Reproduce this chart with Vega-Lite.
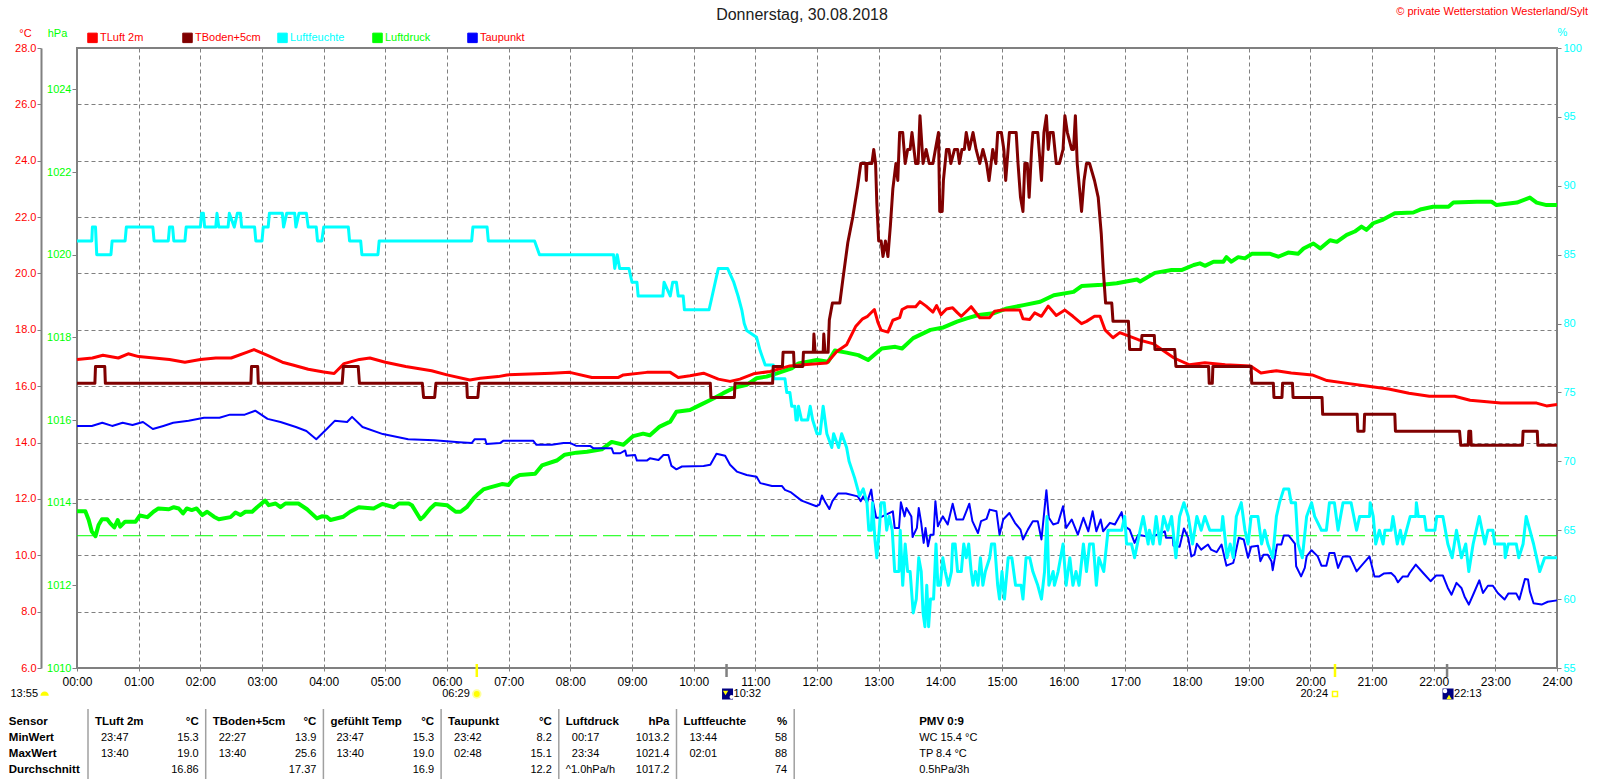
{
  "$schema": "https://vega.github.io/schema/vega-lite/v6.json",
  "width": 1480,
  "height": 620,
  "autosize": {"type": "none"},
  "padding": {"left": 77, "top": 48, "right": 43, "bottom": 112},
  "background": "white",
  "config": {
    "font": "Liberation Sans",
    "view": {"stroke": "#808080", "strokeWidth": 2},
    "axis": {"labelFont": "Liberation Sans", "labelFontSize": 11, "titleFont": "Liberation Sans", "titleFontSize": 11, "titleFontWeight": "normal", "titleAngle": 0, "titleAlign": "center", "titleBaseline": "middle", "tickColor": "#808080", "domainColor": "#808080", "labelOverlap": false, "labelBound": false, "labelFlush": false},
    "text": {"font": "Liberation Sans", "fontSize": 11, "color": "#000000"}
  },
  "datasets": {
    "tluft": [
      {"t":0,"v":16.95},{"t":0.25,"v":17.0},{"t":0.42,"v":17.1},{"t":0.67,"v":17.0},{"t":0.83,"v":17.15},{"t":1.0,"v":17.05},{"t":1.5,"v":16.95},{"t":1.75,"v":16.85},{"t":2.0,"v":16.95},{"t":2.25,"v":17.0},{"t":2.5,"v":17.0},{"t":2.75,"v":17.2},{"t":2.87,"v":17.3},{"t":3.08,"v":17.1},{"t":3.33,"v":16.85},{"t":3.5,"v":16.75},{"t":3.75,"v":16.6},{"t":4.0,"v":16.5},{"t":4.17,"v":16.45},{"t":4.33,"v":16.8},{"t":4.58,"v":16.95},{"t":4.75,"v":17.0},{"t":5.0,"v":16.85},{"t":5.33,"v":16.7},{"t":5.75,"v":16.55},{"t":6.0,"v":16.4},{"t":6.37,"v":16.22},{"t":6.54,"v":16.28},{"t":6.83,"v":16.34},{"t":6.97,"v":16.4},{"t":7.7,"v":16.46},{"t":7.99,"v":16.49},{"t":8.35,"v":16.31},{"t":8.78,"v":16.31},{"t":8.86,"v":16.4},{"t":9.24,"v":16.49},{"t":9.62,"v":16.49},{"t":9.75,"v":16.31},{"t":9.94,"v":16.37},{"t":10.16,"v":16.46},{"t":10.4,"v":16.25},{"t":10.59,"v":16.17},{"t":10.75,"v":16.25},{"t":10.97,"v":16.44},{"t":11.24,"v":16.52},{"t":11.56,"v":16.72},{"t":11.78,"v":16.76},{"t":12.16,"v":16.82},{"t":12.32,"v":17.23},{"t":12.48,"v":17.47},
      {"t":12.63,"v":18.13},{"t":12.74,"v":18.39},{"t":12.82,"v":18.48},{"t":12.93,"v":18.72},{"t":12.99,"v":18.25},{"t":13.04,"v":17.99},{"t":13.15,"v":17.92},{"t":13.23,"v":18.34},{"t":13.34,"v":18.43},{"t":13.38,"v":18.72},{"t":13.47,"v":18.82},{"t":13.6,"v":18.82},{"t":13.67,"v":19.0},{"t":13.77,"v":18.84},{"t":13.88,"v":18.63},{"t":13.94,"v":18.86},{"t":14.01,"v":18.54},{"t":14.1,"v":18.74},{"t":14.2,"v":18.78},{"t":14.28,"v":18.6},{"t":14.34,"v":18.48},{"t":14.5,"v":18.82},{"t":14.64,"v":18.43},{"t":14.8,"v":18.43},{"t":14.88,"v":18.66},{"t":15.02,"v":18.7},{"t":15.18,"v":18.7},{"t":15.29,"v":18.7},{"t":15.34,"v":18.39},{"t":15.45,"v":18.37},{"t":15.53,"v":18.6},{"t":15.64,"v":18.48},{"t":15.75,"v":18.84},{"t":15.88,"v":18.51},{"t":16.02,"v":18.7},{"t":16.15,"v":18.48},{"t":16.29,"v":18.22},{"t":16.37,"v":18.3},{"t":16.5,"v":18.48},{"t":16.59,"v":18.48},{"t":16.67,"v":18.0},{"t":16.8,"v":17.72},{"t":16.91,"v":17.9},
      {"t":17.21,"v":17.65},{"t":17.46,"v":17.5},{"t":17.79,"v":17.0},{"t":18.04,"v":16.76},{"t":18.29,"v":16.83},{"t":18.62,"v":16.76},{"t":19.03,"v":16.72},{"t":19.2,"v":16.47},{"t":19.45,"v":16.55},{"t":19.69,"v":16.47},{"t":20.03,"v":16.4},{"t":20.27,"v":16.2},{"t":20.6,"v":16.1},{"t":20.94,"v":16.0},{"t":21.27,"v":15.9},{"t":21.6,"v":15.75},{"t":21.93,"v":15.64},{"t":22.34,"v":15.64},{"t":22.59,"v":15.5},{"t":23.09,"v":15.4},{"t":23.42,"v":15.4},{"t":23.67,"v":15.4},{"t":23.83,"v":15.3},{"t":24,"v":15.35}
    ],
    "tboden": [
      {"t":0,"v":16.1},{"t":0.29,"v":16.1},{"t":0.3,"v":16.7},{"t":0.45,"v":16.7},{"t":0.46,"v":16.1},{"t":2.82,"v":16.1},{"t":2.83,"v":16.7},{"t":2.93,"v":16.7},{"t":2.94,"v":16.1},{"t":4.3,"v":16.1},{"t":4.32,"v":16.7},{"t":4.56,"v":16.7},{"t":4.58,"v":16.1},{"t":5.6,"v":16.1},{"t":5.62,"v":15.6},{"t":5.8,"v":15.6},{"t":5.82,"v":16.1},{"t":6.32,"v":16.1},{"t":6.33,"v":15.6},{"t":6.5,"v":15.6},{"t":6.52,"v":16.1},{"t":10.27,"v":16.1},{"t":10.28,"v":15.6},{"t":10.66,"v":15.6},{"t":10.67,"v":16.1},{"t":11.28,"v":16.1},{"t":11.29,"v":16.7},{"t":11.44,"v":16.7},{"t":11.45,"v":17.2},{"t":11.62,"v":17.2},{"t":11.63,"v":16.7},{"t":11.77,"v":16.7},{"t":11.78,"v":17.2},{"t":11.94,"v":17.2},{"t":11.95,"v":17.85},{"t":11.97,"v":17.2},{"t":12.1,"v":17.2},{"t":12.11,"v":17.85},{"t":12.13,"v":17.2},{"t":12.18,"v":17.2},
      {"t":12.2,"v":18.35},{"t":12.25,"v":18.95},{"t":12.37,"v":18.95},{"t":12.42,"v":19.8},{"t":12.5,"v":21.1},{"t":12.58,"v":22.0},{"t":12.66,"v":23.1},{"t":12.71,"v":23.9},{"t":12.79,"v":23.9},{"t":12.8,"v":23.3},{"t":12.81,"v":23.9},{"t":12.89,"v":23.9},{"t":12.92,"v":24.4},{"t":12.95,"v":23.9},{"t":12.97,"v":22.5},{"t":13.0,"v":21.15},{"t":13.04,"v":21.15},{"t":13.07,"v":20.6},{"t":13.11,"v":21.15},{"t":13.15,"v":20.6},{"t":13.19,"v":21.7},{"t":13.23,"v":23},{"t":13.28,"v":23.9},{"t":13.31,"v":23.3},{"t":13.34,"v":25},{"t":13.39,"v":25},{"t":13.43,"v":23.9},{"t":13.47,"v":24.4},{"t":13.51,"v":24.4},{"t":13.54,"v":25},{"t":13.6,"v":23.9},{"t":13.64,"v":23.9},{"t":13.67,"v":25.6},{"t":13.72,"v":23.9},{"t":13.77,"v":24.4},{"t":13.82,"v":23.9},{"t":13.88,"v":23.9},{"t":13.92,"v":24.4},{"t":13.97,"v":25},{"t":13.99,"v":22.2},{"t":14.03,"v":22.2},{"t":14.05,"v":23.3},{"t":14.1,"v":24.4},{"t":14.14,"v":24.4},{"t":14.17,"v":23.9},{"t":14.23,"v":24.4},{"t":14.28,"v":24.4},{"t":14.31,"v":23.9},{"t":14.35,"v":24.4},{"t":14.39,"v":24.4},{"t":14.42,"v":25},{"t":14.47,"v":24.4},{"t":14.53,"v":25},{"t":14.58,"v":24.4},{"t":14.64,"v":23.9},{"t":14.69,"v":24.4},{"t":14.75,"v":23.9},{"t":14.79,"v":23.3},{"t":14.85,"v":24.4},{"t":14.9,"v":23.9},{"t":14.93,"v":25},{"t":14.99,"v":25},{"t":15.03,"v":24.4},{"t":15.06,"v":23.3},{"t":15.12,"v":25},{"t":15.23,"v":25},{"t":15.26,"v":23.9},{"t":15.3,"v":22.7},{"t":15.34,"v":22.2},{"t":15.37,"v":23.9},{"t":15.41,"v":23.9},{"t":15.44,"v":22.7},{"t":15.48,"v":24.4},{"t":15.5,"v":25},{"t":15.58,"v":25},{"t":15.64,"v":23.3},{"t":15.68,"v":25},{"t":15.72,"v":25.6},{"t":15.75,"v":24.4},{"t":15.78,"v":25},{"t":15.83,"v":25},{"t":15.88,"v":23.9},{"t":15.93,"v":23.9},{"t":15.99,"v":24.4},{"t":16.02,"v":25.6},{"t":16.06,"v":25},{"t":16.13,"v":24.4},{"t":16.16,"v":24.4},{"t":16.19,"v":25.6},{"t":16.22,"v":23.9},{"t":16.29,"v":22.2},{"t":16.33,"v":23.3},{"t":16.37,"v":23.9},{"t":16.42,"v":23.9},{"t":16.5,"v":23.3},{"t":16.56,"v":22.7},{"t":16.61,"v":21.4},{"t":16.64,"v":20.2},{"t":16.68,"v":18.95},{"t":16.78,"v":18.95},{"t":16.8,"v":18.3},{"t":17.05,"v":18.3},{"t":17.07,"v":17.3},{"t":17.25,"v":17.3},{"t":17.27,"v":17.8},{"t":17.47,"v":17.8},{"t":17.48,"v":17.3},{"t":17.8,"v":17.3},{"t":17.82,"v":16.7},{"t":18.35,"v":16.7},{"t":18.36,"v":16.1},{"t":18.41,"v":16.1},{"t":18.42,"v":16.7},{"t":19.04,"v":16.7},{"t":19.05,"v":16.1},{"t":19.4,"v":16.1},{"t":19.41,"v":15.6},{"t":19.54,"v":15.6},{"t":19.55,"v":16.1},{"t":19.71,"v":16.1},{"t":19.72,"v":15.6},{"t":20.19,"v":15.6},{"t":20.2,"v":15.0},{"t":20.76,"v":15.0},{"t":20.77,"v":14.4},{"t":20.87,"v":14.4},{"t":20.88,"v":15.0},{"t":21.37,"v":15.0},{"t":21.38,"v":14.4},{"t":22.42,"v":14.4},{"t":22.44,"v":13.9},{"t":22.56,"v":13.9},{"t":22.57,"v":14.4},{"t":22.6,"v":14.4},{"t":22.61,"v":13.9},{"t":23.44,"v":13.9},{"t":23.45,"v":14.4},{"t":23.68,"v":14.4},{"t":23.69,"v":13.9},{"t":24,"v":13.9}
    ],
    "feuchte": [
      {"t":0,"v":86},{"t":0.24,"v":86},{"t":0.25,"v":87},{"t":0.3,"v":87},{"t":0.32,"v":85},{"t":0.55,"v":85},{"t":0.57,"v":86},{"t":0.78,"v":86},{"t":0.8,"v":87},{"t":1.23,"v":87},{"t":1.25,"v":86},{"t":1.48,"v":86},{"t":1.5,"v":87},{"t":1.55,"v":87},{"t":1.57,"v":86},{"t":1.75,"v":86},{"t":1.77,"v":87},{"t":2.0,"v":87},{"t":2.02,"v":88},{"t":2.05,"v":88},{"t":2.07,"v":87},{"t":2.25,"v":87},{"t":2.27,"v":88},{"t":2.3,"v":87},{"t":2.45,"v":87},{"t":2.47,"v":88},{"t":2.55,"v":87},{"t":2.6,"v":88},{"t":2.65,"v":88},{"t":2.67,"v":87},{"t":2.88,"v":87},{"t":2.9,"v":86},{"t":3.0,"v":86},{"t":3.02,"v":87},{"t":3.1,"v":87},{"t":3.12,"v":88},{"t":3.33,"v":88},{"t":3.35,"v":87},{"t":3.4,"v":88},{"t":3.53,"v":88},{"t":3.55,"v":87},{"t":3.6,"v":88},{"t":3.72,"v":88},{"t":3.75,"v":87},{"t":3.88,"v":87},{"t":3.9,"v":86},{"t":3.97,"v":86},{"t":4.0,"v":87},{"t":4.4,"v":87},{"t":4.42,"v":86},{"t":4.6,"v":86},{"t":4.62,"v":85},{"t":4.88,"v":85},{"t":4.9,"v":86},{"t":6.4,"v":86},{"t":6.42,"v":87},{"t":6.65,"v":87},{"t":6.67,"v":86},{"t":7.42,"v":86},{"t":7.5,"v":85},{"t":8.7,"v":85},{"t":8.72,"v":84},{"t":8.76,"v":85},{"t":8.8,"v":84},{"t":8.95,"v":84},{"t":9.0,"v":83},{"t":9.08,"v":83},{"t":9.1,"v":82},{"t":9.5,"v":82},{"t":9.52,"v":83},{"t":9.62,"v":82},{"t":9.66,"v":83},{"t":9.72,"v":83},{"t":9.75,"v":82},{"t":9.83,"v":82},{"t":9.85,"v":81},{"t":10.25,"v":81},{"t":10.3,"v":82},{"t":10.4,"v":84},{"t":10.55,"v":84},{"t":10.65,"v":83},{"t":10.72,"v":82},{"t":10.78,"v":81},{"t":10.82,"v":80},{"t":10.86,"v":79.5},{"t":11.02,"v":79},{"t":11.08,"v":78},{"t":11.16,"v":77},{"t":11.29,"v":77},{"t":11.3,"v":76},{"t":11.48,"v":76},{"t":11.51,"v":75},{"t":11.56,"v":75},{"t":11.59,"v":74},{"t":11.64,"v":74},{"t":11.66,"v":73},{"t":11.68,"v":73},{"t":11.7,"v":74},{"t":11.75,"v":73},{"t":11.85,"v":73},{"t":11.89,"v":74},{"t":11.93,"v":73},{"t":12.0,"v":72},{"t":12.05,"v":72},{"t":12.1,"v":74},{"t":12.16,"v":72},{"t":12.24,"v":71},{"t":12.27,"v":72},{"t":12.35,"v":71},{"t":12.4,"v":72},{"t":12.48,"v":71},
      {"t":12.52,"v":70},{"t":12.61,"v":68.8},{"t":12.69,"v":67.5},{"t":12.75,"v":68},{"t":12.81,"v":67},{"t":12.84,"v":65},{"t":12.88,"v":65},{"t":12.9,"v":67},{"t":12.94,"v":64.3},{"t":12.97,"v":63},{"t":13.01,"v":65},{"t":13.04,"v":67},{"t":13.09,"v":67},{"t":13.13,"v":65},{"t":13.17,"v":66},{"t":13.22,"v":65},{"t":13.26,"v":62},{"t":13.33,"v":62},{"t":13.35,"v":65},{"t":13.39,"v":61},{"t":13.43,"v":64},{"t":13.47,"v":62},{"t":13.51,"v":62},{"t":13.56,"v":59},{"t":13.61,"v":60},{"t":13.65,"v":63},{"t":13.69,"v":62},{"t":13.72,"v":59},{"t":13.75,"v":58},{"t":13.78,"v":61},{"t":13.81,"v":58},{"t":13.84,"v":60},{"t":13.89,"v":60},{"t":13.93,"v":64},{"t":13.96,"v":61},{"t":14.0,"v":61},{"t":14.04,"v":63},{"t":14.08,"v":62},{"t":14.13,"v":61},{"t":14.18,"v":62},{"t":14.2,"v":64},{"t":14.24,"v":64},{"t":14.28,"v":62},{"t":14.34,"v":62},{"t":14.38,"v":64},{"t":14.42,"v":63},{"t":14.46,"v":64},{"t":14.5,"v":62},{"t":14.53,"v":61},{"t":14.57,"v":62},{"t":14.61,"v":61},{"t":14.65,"v":63},{"t":14.69,"v":61},{"t":14.73,"v":62},{"t":14.8,"v":63},{"t":14.83,"v":64},{"t":14.88,"v":64},{"t":14.93,"v":61},{"t":14.96,"v":60},{"t":15.0,"v":62},{"t":15.04,"v":60},{"t":15.1,"v":63},{"t":15.16,"v":63},{"t":15.22,"v":61},{"t":15.31,"v":61},{"t":15.34,"v":60},{"t":15.39,"v":63},{"t":15.45,"v":63},{"t":15.5,"v":62},{"t":15.58,"v":61},{"t":15.64,"v":60},{"t":15.69,"v":62},{"t":15.73,"v":66},{"t":15.76,"v":61},{"t":15.83,"v":62},{"t":15.85,"v":61},{"t":15.91,"v":62},{"t":15.99,"v":64},{"t":16.04,"v":61},{"t":16.1,"v":63},{"t":16.15,"v":61},{"t":16.2,"v":62},{"t":16.25,"v":61},{"t":16.32,"v":64},{"t":16.37,"v":62},{"t":16.42,"v":64},{"t":16.48,"v":64},{"t":16.53,"v":61},{"t":16.57,"v":63},{"t":16.65,"v":62},{"t":16.72,"v":65},{"t":16.94,"v":65},{"t":16.99,"v":66},{"t":17.02,"v":64},{"t":17.1,"v":64},{"t":17.15,"v":63},{"t":17.24,"v":65},{"t":17.29,"v":66},{"t":17.37,"v":64},
      {"t":17.39,"v":65},{"t":17.45,"v":64},{"t":17.5,"v":66},{"t":17.56,"v":64},{"t":17.62,"v":66},{"t":17.69,"v":65},{"t":17.75,"v":66},{"t":17.82,"v":63},{"t":17.88,"v":66},{"t":17.95,"v":67},{"t":18.02,"v":66},{"t":18.09,"v":64},{"t":18.16,"v":66},{"t":18.23,"v":65},{"t":18.29,"v":66},{"t":18.37,"v":65},{"t":18.56,"v":65},{"t":18.58,"v":66},{"t":18.65,"v":63},{"t":18.7,"v":64},{"t":18.75,"v":63},{"t":18.8,"v":66},{"t":18.88,"v":67},{"t":18.94,"v":65},{"t":18.99,"v":64},{"t":19.04,"v":66},{"t":19.15,"v":66},{"t":19.21,"v":64},{"t":19.26,"v":65},{"t":19.31,"v":64},{"t":19.39,"v":63},{"t":19.45,"v":66},{"t":19.5,"v":67},{"t":19.57,"v":68},{"t":19.65,"v":68},{"t":19.69,"v":67},{"t":19.76,"v":67},{"t":19.8,"v":64},{"t":19.87,"v":63},{"t":19.94,"v":66},{"t":20.02,"v":67},{"t":20.07,"v":66},{"t":20.18,"v":65},{"t":20.26,"v":65},{"t":20.31,"v":67},{"t":20.39,"v":67},{"t":20.45,"v":65},{"t":20.53,"v":67},{"t":20.66,"v":67},{"t":20.75,"v":65},{"t":20.8,"v":66},{"t":20.96,"v":66},{"t":20.97,"v":67},{"t":21.02,"v":66},{"t":21.06,"v":64},{"t":21.12,"v":65},{"t":21.18,"v":64},{"t":21.21,"v":65},{"t":21.31,"v":65},{"t":21.34,"v":66},{"t":21.41,"v":64},{"t":21.46,"v":65},{"t":21.5,"v":64},{"t":21.56,"v":65},{"t":21.62,"v":66},{"t":21.71,"v":66},{"t":21.72,"v":67},{"t":21.75,"v":66},{"t":21.85,"v":66},{"t":21.88,"v":65},{"t":22.02,"v":65},{"t":22.05,"v":66},{"t":22.15,"v":66},{"t":22.23,"v":64},{"t":22.3,"v":63},{"t":22.37,"v":65},{"t":22.45,"v":63},{"t":22.52,"v":64},{"t":22.57,"v":62},{"t":22.64,"v":64},{"t":22.74,"v":66},{"t":22.83,"v":64},{"t":22.88,"v":65},{"t":22.96,"v":65},{"t":22.99,"v":64},{"t":23.15,"v":64},{"t":23.16,"v":63},{"t":23.21,"v":64},{"t":23.34,"v":64},{"t":23.38,"v":63},{"t":23.45,"v":64},{"t":23.5,"v":66},{"t":23.56,"v":65},{"t":23.62,"v":64},{"t":23.72,"v":62},{"t":23.8,"v":63},{"t":24,"v":63}
    ],
    "druck": [
      {"t":0,"v":1013.79},{"t":0.135,"v":1013.79},{"t":0.19,"v":1013.58},{"t":0.24,"v":1013.3},{"t":0.3,"v":1013.19},{"t":0.35,"v":1013.46},{"t":0.405,"v":1013.6},{"t":0.49,"v":1013.6},{"t":0.54,"v":1013.5},{"t":0.605,"v":1013.4},{"t":0.66,"v":1013.58},{"t":0.7,"v":1013.42},{"t":0.78,"v":1013.54},{"t":0.95,"v":1013.54},{"t":1.02,"v":1013.69},{"t":1.14,"v":1013.65},{"t":1.24,"v":1013.78},{"t":1.32,"v":1013.86},{"t":1.49,"v":1013.84},{"t":1.57,"v":1013.89},{"t":1.65,"v":1013.86},{"t":1.72,"v":1013.74},{"t":1.78,"v":1013.86},{"t":1.86,"v":1013.82},{"t":1.94,"v":1013.86},{"t":2.03,"v":1013.7},{"t":2.11,"v":1013.78},{"t":2.22,"v":1013.66},{"t":2.3,"v":1013.6},{"t":2.49,"v":1013.65},{"t":2.57,"v":1013.76},{"t":2.65,"v":1013.7},{"t":2.73,"v":1013.78},{"t":2.84,"v":1013.78},{"t":2.92,"v":1013.89},{"t":3.05,"v":1014.05},{"t":3.11,"v":1013.94},{"t":3.22,"v":1013.98},{"t":3.3,"v":1013.89},{"t":3.38,"v":1013.98},{"t":3.59,"v":1013.98},{"t":3.73,"v":1013.84},{"t":3.89,"v":1013.62},{"t":3.97,"v":1013.67},{"t":4.05,"v":1013.66},{"t":4.11,"v":1013.58},{"t":4.32,"v":1013.66},{"t":4.43,"v":1013.78},{"t":4.57,"v":1013.89},{"t":4.81,"v":1013.86},{"t":4.95,"v":1013.97},{"t":5.14,"v":1013.89},{"t":5.22,"v":1013.98},{"t":5.38,"v":1013.98},{"t":5.43,"v":1013.94},{"t":5.57,"v":1013.6},{"t":5.62,"v":1013.66},{"t":5.73,"v":1013.86},{"t":5.81,"v":1013.97},{"t":6.0,"v":1013.94},{"t":6.14,"v":1013.78},{"t":6.22,"v":1013.78},{"t":6.32,"v":1013.89},{"t":6.43,"v":1014.1},{"t":6.49,"v":1014.19},
      {"t":6.59,"v":1014.32},{"t":6.7,"v":1014.37},{"t":6.89,"v":1014.45},{"t":7.0,"v":1014.43},{"t":7.08,"v":1014.59},{"t":7.18,"v":1014.67},{"t":7.43,"v":1014.7},{"t":7.54,"v":1014.9},{"t":7.78,"v":1015.02},{"t":7.91,"v":1015.16},{"t":8.1,"v":1015.21},{"t":8.27,"v":1015.23},{"t":8.51,"v":1015.29},{"t":8.67,"v":1015.47},{"t":8.86,"v":1015.4},{"t":9.02,"v":1015.61},{"t":9.18,"v":1015.67},{"t":9.29,"v":1015.63},{"t":9.45,"v":1015.84},{"t":9.62,"v":1015.96},{"t":9.72,"v":1016.2},{"t":9.94,"v":1016.24},{"t":10.1,"v":1016.36},{"t":10.32,"v":1016.52},{"t":10.48,"v":1016.65},{"t":10.64,"v":1016.77},{"t":10.86,"v":1016.85},{"t":11.02,"v":1017.01},{"t":11.18,"v":1017.05},{"t":11.35,"v":1017.13},{"t":11.59,"v":1017.25},{"t":11.7,"v":1017.37},{"t":12.0,"v":1017.45},{"t":12.18,"v":1017.41},{"t":12.29,"v":1017.68},{"t":12.48,"v":1017.63},{"t":12.67,"v":1017.57},{"t":12.83,"v":1017.45},
      {"t":13.05,"v":1017.73},{"t":13.27,"v":1017.77},{"t":13.38,"v":1017.73},{"t":13.56,"v":1017.98},{"t":13.84,"v":1018.18},{"t":14.05,"v":1018.24},{"t":14.27,"v":1018.38},{"t":14.43,"v":1018.46},{"t":14.62,"v":1018.54},{"t":14.86,"v":1018.58},{"t":15.08,"v":1018.7},{"t":15.35,"v":1018.78},{"t":15.62,"v":1018.86},{"t":15.84,"v":1019.02},{"t":16.16,"v":1019.1},{"t":16.29,"v":1019.24},{"t":16.62,"v":1019.27},{"t":16.86,"v":1019.31},{"t":17.19,"v":1019.4},{"t":17.24,"v":1019.35},{"t":17.48,"v":1019.56},{"t":17.75,"v":1019.63},{"t":17.92,"v":1019.63},{"t":18.11,"v":1019.75},
      {"t":18.21,"v":1019.79},{"t":18.29,"v":1019.73},{"t":18.43,"v":1019.83},{"t":18.59,"v":1019.83},{"t":18.64,"v":1019.94},{"t":18.72,"v":1019.83},{"t":18.83,"v":1019.94},{"t":18.94,"v":1019.91},{"t":19.05,"v":1020.02},{"t":19.35,"v":1020.02},{"t":19.48,"v":1019.95},{"t":19.64,"v":1020.05},{"t":19.8,"v":1020.02},{"t":19.89,"v":1020.15},{"t":20.05,"v":1020.27},{"t":20.16,"v":1020.15},{"t":20.32,"v":1020.35},{"t":20.43,"v":1020.31},{"t":20.59,"v":1020.48},{"t":20.72,"v":1020.56},{"t":20.83,"v":1020.68},{"t":20.91,"v":1020.6},{"t":21.02,"v":1020.76},{"t":21.18,"v":1020.85},{"t":21.37,"v":1021.0},{"t":21.67,"v":1021.02},{"t":21.8,"v":1021.1},{"t":21.99,"v":1021.16},{"t":22.24,"v":1021.16},{"t":22.32,"v":1021.26},{"t":22.7,"v":1021.28},{"t":22.94,"v":1021.28},{"t":23.02,"v":1021.2},{"t":23.35,"v":1021.26},{"t":23.56,"v":1021.38},{"t":23.67,"v":1021.26},{"t":23.83,"v":1021.2},{"t":24,"v":1021.2}
    ],
    "taupunkt": [
      {"t":0,"v":14.59},{"t":0.24,"v":14.59},{"t":0.41,"v":14.7},{"t":0.57,"v":14.59},{"t":0.74,"v":14.7},{"t":0.9,"v":14.62},{"t":1.07,"v":14.73},{"t":1.23,"v":14.48},{"t":1.4,"v":14.59},{"t":1.56,"v":14.7},{"t":1.81,"v":14.77},{"t":2.06,"v":14.88},{"t":2.31,"v":14.88},{"t":2.48,"v":14.99},{"t":2.72,"v":14.99},{"t":2.89,"v":15.13},{"t":3.09,"v":14.84},{"t":3.3,"v":14.73},{"t":3.55,"v":14.55},{"t":3.72,"v":14.41},{"t":3.88,"v":14.12},{"t":4.05,"v":14.48},{"t":4.18,"v":14.77},{"t":4.38,"v":14.73},{"t":4.46,"v":14.91},{"t":4.63,"v":14.55},{"t":4.96,"v":14.3},{"t":5.37,"v":14.12},{"t":5.79,"v":14.08},{"t":6.2,"v":14.01},{"t":6.4,"v":13.98},{"t":6.45,"v":14.12},{"t":6.62,"v":14.12},{"t":6.64,"v":13.95},{"t":6.86,"v":13.98},{"t":6.91,"v":14.06},{"t":7.4,"v":14.06},{"t":7.45,"v":13.92},{"t":7.7,"v":13.92},{"t":7.89,"v":13.98},{"t":8.0,"v":13.98},{"t":8.09,"v":13.89},{"t":8.32,"v":13.88},{"t":8.37,"v":13.8},{"t":8.67,"v":13.8},{"t":8.7,"v":13.62},{"t":8.81,"v":13.62},{"t":8.89,"v":13.72},{"t":8.91,"v":13.53},{"t":9.05,"v":13.56},{"t":9.08,"v":13.36},{"t":9.24,"v":13.36},{"t":9.29,"v":13.44},{"t":9.43,"v":13.38},{"t":9.51,"v":13.56},{"t":9.59,"v":13.56},{"t":9.64,"v":13.17},{"t":9.72,"v":13.05},{"t":9.81,"v":13.15},{"t":10.16,"v":13.17},{"t":10.27,"v":13.21},{"t":10.37,"v":13.6},{"t":10.51,"v":13.53},{"t":10.59,"v":13.21},{"t":10.7,"v":12.97},{"t":10.86,"v":12.85},{"t":11.02,"v":12.79},{"t":11.08,"v":12.56},{"t":11.27,"v":12.46},{"t":11.43,"v":12.46},{"t":11.48,"v":12.32},{"t":11.58,"v":12.23},{"t":11.75,"v":11.94},{"t":11.99,"v":11.74},
      {"t":12.04,"v":11.8},{"t":12.08,"v":12.12},{"t":12.14,"v":11.86},{"t":12.2,"v":11.64},{"t":12.25,"v":11.92},{"t":12.34,"v":12.19},{"t":12.47,"v":12.19},{"t":12.66,"v":12.09},{"t":12.71,"v":11.92},{"t":12.75,"v":12.09},{"t":12.81,"v":11.86},{"t":12.88,"v":12.33},{"t":12.9,"v":11.98},{"t":12.96,"v":11.33},{"t":13.01,"v":11.33},{"t":13.12,"v":11.44},{"t":13.23,"v":11.56},{"t":13.26,"v":10.97},{"t":13.33,"v":10.97},{"t":13.36,"v":11.88},{"t":13.42,"v":11.38},{"t":13.45,"v":11.68},{"t":13.53,"v":11.38},{"t":13.55,"v":10.65},{"t":13.62,"v":10.97},{"t":13.65,"v":11.68},{"t":13.69,"v":11.15},{"t":13.73,"v":10.44},{"t":13.76,"v":10.97},{"t":13.8,"v":10.32},{"t":13.84,"v":10.73},{"t":13.89,"v":10.73},{"t":13.92,"v":11.92},{"t":13.96,"v":11.03},{"t":14.04,"v":11.38},{"t":14.12,"v":11.09},{"t":14.2,"v":11.83},{"t":14.26,"v":11.27},{"t":14.37,"v":11.27},{"t":14.47,"v":11.83},{"t":14.52,"v":11.21},{"t":14.61,"v":10.79},{"t":14.66,"v":11.21},{"t":14.75,"v":11.29},{"t":14.8,"v":11.62},{"t":14.91,"v":11.56},{"t":14.96,"v":10.73},{"t":15.02,"v":11.27},{"t":15.12,"v":11.5},{"t":15.21,"v":11.15},{"t":15.3,"v":10.91},{"t":15.34,"v":10.56},{"t":15.42,"v":10.91},{"t":15.5,"v":11.21},{"t":15.58,"v":11.21},{"t":15.64,"v":10.56},{"t":15.72,"v":12.31},{"t":15.76,"v":11.33},{"t":15.83,"v":11.09},{"t":15.91,"v":11.15},{"t":15.99,"v":11.74},{"t":16.04,"v":10.97},{"t":16.13,"v":11.27},{"t":16.23,"v":10.73},{"t":16.32,"v":11.33},{"t":16.4,"v":10.85},{"t":16.47,"v":11.56},{"t":16.53,"v":10.85},{"t":16.6,"v":11.27},{"t":16.64,"v":10.85},{"t":16.75,"v":11.15},{"t":16.83,"v":11.09},{"t":16.94,"v":11.53},{"t":16.99,"v":11.03},{"t":17.07,"v":10.91},{"t":17.15,"v":10.44},{"t":17.21,"v":10.73},{"t":17.34,"v":10.67},{"t":17.48,"v":10.7},{"t":17.64,"v":10.85},{"t":17.66,"v":10.62},{"t":17.77,"v":10.62},{"t":17.78,"v":10.34},{"t":17.88,"v":10.3},{"t":17.95,"v":10.95},{"t":18.02,"v":10.62},{"t":18.07,"v":9.96},{"t":18.12,"v":10.02},{"t":18.16,"v":10.41},{"t":18.23,"v":10.2},{"t":18.34,"v":10.38},{"t":18.39,"v":10.2},{"t":18.48,"v":10.11},{"t":18.56,"v":10.38},{"t":18.64,"v":9.63},{"t":18.75,"v":9.73},{"t":18.77,"v":9.91},{"t":18.84,"v":10.62},{"t":18.92,"v":10.56},{"t":18.99,"v":9.91},{"t":19.04,"v":10.3},{"t":19.15,"v":10.34},{"t":19.19,"v":9.79},{"t":19.24,"v":10.02},{"t":19.31,"v":10.02},{"t":19.37,"v":9.79},{"t":19.39,"v":9.47},{"t":19.46,"v":10.38},{"t":19.53,"v":10.38},{"t":19.57,"v":10.7},{"t":19.65,"v":10.7},{"t":19.75,"v":10.41},{"t":19.77,"v":9.61},{"t":19.85,"v":9.25},{"t":19.91,"v":9.55},{"t":19.94,"v":9.96},{"t":20.02,"v":10.18},{"t":20.12,"v":9.96},{"t":20.18,"v":9.63},{"t":20.26,"v":9.63},{"t":20.31,"v":10.08},{"t":20.39,"v":10.08},{"t":20.45,"v":9.55},{"t":20.53,"v":9.96},{"t":20.64,"v":9.96},{"t":20.75,"v":9.43},{"t":20.83,"v":9.63},{"t":20.96,"v":9.96},{"t":21.04,"v":9.25},{"t":21.12,"v":9.25},{"t":21.19,"v":9.35},{"t":21.31,"v":9.37},{"t":21.37,"v":9.25},{"t":21.42,"v":9.04},{"t":21.5,"v":9.25},{"t":21.58,"v":9.25},{"t":21.61,"v":9.37},{"t":21.71,"v":9.67},{"t":21.83,"v":9.37},{"t":21.95,"v":9.08},{"t":22.04,"v":9.28},{"t":22.15,"v":9.28},{"t":22.23,"v":8.84},{"t":22.29,"v":8.6},{"t":22.37,"v":9.02},{"t":22.45,"v":8.84},{"t":22.5,"v":8.54},{"t":22.57,"v":8.25},{"t":22.64,"v":8.6},{"t":22.74,"v":9.11},{"t":22.8,"v":8.66},{"t":22.88,"v":8.92},{"t":22.96,"v":8.92},{"t":23.04,"v":8.66},{"t":23.15,"v":8.43},{"t":23.21,"v":8.64},{"t":23.34,"v":8.64},{"t":23.39,"v":8.43},{"t":23.48,"v":9.16},{"t":23.53,"v":9.14},{"t":23.56,"v":8.72},{"t":23.62,"v":8.3},{"t":23.75,"v":8.25},{"t":23.85,"v":8.35},{"t":24,"v":8.4}
    ],
    "ereignisse": [
      {"t":6.483,"zeit":"06:29","art":"Sonnenaufgang"},
      {"t":10.533,"zeit":"10:32","art":"Mondaufgang"},
      {"t":20.4,"zeit":"20:24","art":"Sonnenuntergang"},
      {"t":22.217,"zeit":"22:13","art":"Monduntergang"},
      {"t":0,"zeit":"13:55","art":"Tageslänge"},
      {"t":24,"zeit":"© private Wetterstation Westerland/Sylt","art":"Quelle"},
      {"t":12,"zeit":"Donnerstag, 30.08.2018","art":"Titel"}
    ],
    "spalten": [
      {"spalte":"TLuft 2m","einheit":"°C"},
      {"spalte":"TBoden+5cm","einheit":"°C"},
      {"spalte":"gefühlt Temp","einheit":"°C"},
      {"spalte":"Taupunkt","einheit":"°C"},
      {"spalte":"Luftdruck","einheit":"hPa"},
      {"spalte":"Luftfeuchte","einheit":"%"},
      {"spalte":"PMV 0:9","einheit":""}
    ],
    "zeilen": [{"zeile":"Sensor"},{"zeile":"MinWert"},{"zeile":"MaxWert"},{"zeile":"Durchschnitt"}],
    "tabelle": [
      {"spalte":"TLuft 2m","zeile":"MinWert","zeit":"23:47","wert":"15.3"},
      {"spalte":"TLuft 2m","zeile":"MaxWert","zeit":"13:40","wert":"19.0"},
      {"spalte":"TLuft 2m","zeile":"Durchschnitt","zeit":"","wert":"16.86"},
      {"spalte":"TBoden+5cm","zeile":"MinWert","zeit":"22:27","wert":"13.9"},
      {"spalte":"TBoden+5cm","zeile":"MaxWert","zeit":"13:40","wert":"25.6"},
      {"spalte":"TBoden+5cm","zeile":"Durchschnitt","zeit":"","wert":"17.37"},
      {"spalte":"gefühlt Temp","zeile":"MinWert","zeit":"23:47","wert":"15.3"},
      {"spalte":"gefühlt Temp","zeile":"MaxWert","zeit":"13:40","wert":"19.0"},
      {"spalte":"gefühlt Temp","zeile":"Durchschnitt","zeit":"","wert":"16.9"},
      {"spalte":"Taupunkt","zeile":"MinWert","zeit":"23:42","wert":"8.2"},
      {"spalte":"Taupunkt","zeile":"MaxWert","zeit":"02:48","wert":"15.1"},
      {"spalte":"Taupunkt","zeile":"Durchschnitt","zeit":"","wert":"12.2"},
      {"spalte":"Luftdruck","zeile":"MinWert","zeit":"00:17","wert":"1013.2"},
      {"spalte":"Luftdruck","zeile":"MaxWert","zeit":"23:34","wert":"1021.4"},
      {"spalte":"Luftdruck","zeile":"Durchschnitt","zeit":"","wert":"1017.2","notiz":"^1.0hPa/h"},
      {"spalte":"Luftfeuchte","zeile":"MinWert","zeit":"13:44","wert":"58"},
      {"spalte":"Luftfeuchte","zeile":"MaxWert","zeit":"02:01","wert":"88"},
      {"spalte":"Luftfeuchte","zeile":"Durchschnitt","zeit":"","wert":"74"},
      {"spalte":"PMV 0:9","zeile":"MinWert","info":"WC 15.4 °C"},
      {"spalte":"PMV 0:9","zeile":"MaxWert","info":"TP 8.4 °C"},
      {"spalte":"PMV 0:9","zeile":"Durchschnitt","info":"0.5hPa/3h"}
    ]
  },
  "resolve": {"scale": {"x": "independent", "y": "independent"}},
  "layer": [
    {
      "data": {"values": [{"min": 1013.2}]},
      "mark": {"type": "rule", "color": "#00ff00", "strokeWidth": 1, "strokeDash": [18, 6]},
      "encoding": {
        "y": {"field": "min", "type": "quantitative", "scale": {"domain": [1010, 1025], "nice": false, "zero": false}, "axis": null}
      }
    },
    {
      "data": {"name": "druck"},
      "mark": {"type": "line", "strokeWidth": 4, "strokeJoin": "round"},
      "encoding": {
        "x": {"field": "t", "type": "quantitative", "scale": {"domain": [0, 24], "nice": false, "zero": false},
          "axis": {"values": [0,1,2,3,4,5,6,7,8,9,10,11,12,13,14,15,16,17,18,19,20,21,22,23,24], "labelExpr": "(datum.value<10?'0':'')+datum.value+':00'", "title": null, "grid": true, "gridColor": "#808080", "gridDash": [4, 3], "gridWidth": 1, "domain": false, "tickSize": 3, "labelPadding": 5, "labelColor": "#000000", "labelFontSize": 12}},
        "y": {"field": "v", "type": "quantitative", "scale": {"domain": [1010, 1025], "nice": false, "zero": false},
          "axis": {"orient": "left", "values": [1010,1012,1014,1016,1018,1020,1022,1024], "format": "d", "title": "hPa", "titleColor": "#00ff00", "titleX": -20, "titleY": -15, "labelColor": "#00ff00", "tickSize": 5, "labelPadding": 1, "domain": false, "grid": false}},
        "color": {"datum": "Luftdruck", "scale": {"domain": ["TLuft 2m","TBoden+5cm","Luftfeuchte","Luftdruck","Taupunkt"], "range": ["#ff0000","#800000","#00ffff","#00ff00","#0000ff"]},
          "legend": {"title": null, "orient": "none", "legendX": 10, "legendY": -16, "direction": "horizontal", "columns": 5, "gridAlign": "all", "columnPadding": 14, "symbolType": "square", "symbolSize": 90, "labelFontSize": 11, "labelFont": "Liberation Sans", "labelOffset": 2, "encode": {"symbols": {"update": {"fill": {"scale": "color", "field": "value"}, "stroke": {"value": "#000000"}, "strokeWidth": {"value": 1}, "opacity": {"value": 1}}}, "labels": {"update": {"fill": {"signal": "datum.value==='Luftfeuchte'?'#00ffff':datum.value==='Luftdruck'?'#00ff00':'#ff0000'"}}}}}}
      }
    },
    {
      "data": {"name": "taupunkt"},
      "mark": {"type": "line", "strokeWidth": 2, "strokeJoin": "round"},
      "encoding": {
        "x": {"field": "t", "type": "quantitative", "scale": {"domain": [0, 24], "nice": false, "zero": false}, "axis": null},
        "y": {"field": "v", "type": "quantitative", "scale": {"domain": [6, 28], "nice": false, "zero": false},
          "axis": {"orient": "left", "offset": 36, "values": [6,8,10,12,14,16,18,20,22,24,26,28], "format": ".1f", "title": "°C", "titleColor": "#ff0000", "titleX": -16, "titleY": -15, "labelColor": "#ff0000", "tickSize": 4, "labelPadding": 1, "domain": true, "domainWidth": 2, "grid": true, "gridColor": "#808080", "gridDash": [4, 3], "gridWidth": 1}},
        "color": {"datum": "Taupunkt"}
      }
    },
    {
      "data": {"name": "feuchte"},
      "mark": {"type": "line", "strokeWidth": 3, "strokeJoin": "round"},
      "encoding": {
        "x": {"field": "t", "type": "quantitative", "scale": {"domain": [0, 24], "nice": false, "zero": false}, "axis": null},
        "y": {"field": "v", "type": "quantitative", "scale": {"domain": [55, 100], "nice": false, "zero": false},
          "axis": {"orient": "right", "values": [55,60,65,70,75,80,85,90,95,100], "format": "d", "title": "%", "titleColor": "#00ffff", "titleX": 5, "titleY": -16, "labelColor": "#00ffff", "tickSize": 4, "labelPadding": 2, "domain": false, "grid": false}},
        "color": {"datum": "Luftfeuchte"}
      }
    },
    {
      "data": {"name": "tluft"},
      "mark": {"type": "line", "strokeWidth": 3, "strokeJoin": "round"},
      "encoding": {
        "x": {"field": "t", "type": "quantitative", "scale": {"domain": [0, 24], "nice": false, "zero": false}, "axis": null},
        "y": {"field": "v", "type": "quantitative", "scale": {"domain": [6, 28], "nice": false, "zero": false}, "axis": null},
        "color": {"datum": "TLuft 2m"}
      }
    },
    {
      "data": {"name": "tboden"},
      "mark": {"type": "line", "strokeWidth": 3, "strokeJoin": "round"},
      "encoding": {
        "x": {"field": "t", "type": "quantitative", "scale": {"domain": [0, 24], "nice": false, "zero": false}, "axis": null},
        "y": {"field": "v", "type": "quantitative", "scale": {"domain": [6, 28], "nice": false, "zero": false}, "axis": null},
        "color": {"datum": "TBoden+5cm"}
      }
    },
    {
      "data": {"name": "ereignisse"},
      "encoding": {
        "x": {"field": "t", "type": "quantitative", "scale": {"domain": [0, 24], "nice": false, "zero": false}, "axis": null},
        "y": {"datum": 6, "type": "quantitative", "scale": {"domain": [6, 28], "nice": false, "zero": false}, "axis": null}
      },
      "layer": [
        {"transform": [{"filter": "indexof(datum.art,'Sonne')==0"}], "mark": {"type": "rule", "color": "#ffff00", "strokeWidth": 2.5, "yOffset": -4, "y2Offset": 9}, "encoding": {"y2": {"datum": 6}}},
        {"transform": [{"filter": "indexof(datum.art,'Mond')==0"}], "mark": {"type": "rule", "color": "#808080", "strokeWidth": 2.5, "yOffset": -4, "y2Offset": 9}, "encoding": {"y2": {"datum": 6}}},
        {"transform": [{"filter": "indexof(datum.art,'Sonne')==0"}], "mark": {"type": "text", "align": "right", "baseline": "middle", "dx": -7, "dy": 26}, "encoding": {"text": {"field": "zeit"}}},
        {"transform": [{"filter": "indexof(datum.art,'Mond')==0"}], "mark": {"type": "text", "align": "left", "baseline": "middle", "dx": 7, "dy": 26}, "encoding": {"text": {"field": "zeit"}}},
        {"transform": [{"filter": "datum.art==='Sonnenaufgang'"}], "mark": {"type": "point", "shape": "circle", "filled": true, "color": "#ffff99", "opacity": 1, "size": 90, "yOffset": 26}},
        {"transform": [{"filter": "datum.art==='Sonnenaufgang'"}], "mark": {"type": "point", "shape": "circle", "filled": true, "color": "#ffff00", "opacity": 1, "size": 35, "yOffset": 26}},
        {"transform": [{"filter": "datum.art==='Sonnenuntergang'"}], "mark": {"type": "point", "shape": "square", "filled": false, "color": "#ffff00", "opacity": 1, "strokeWidth": 1.5, "size": 25, "yOffset": 26}},
        {"transform": [{"filter": "indexof(datum.art,'Mond')==0"}], "mark": {"type": "point", "shape": "square", "filled": true, "color": "#000080", "opacity": 1, "size": 121, "yOffset": 26, "xOffset": 1}},
        {"transform": [{"filter": "datum.art==='Mondaufgang'"}], "mark": {"type": "point", "shape": "circle", "filled": true, "color": "#ffffff", "opacity": 1, "size": 16, "yOffset": 29, "xOffset": 5}},
        {"transform": [{"filter": "datum.art==='Mondaufgang'"}], "mark": {"type": "point", "shape": "triangle-down", "filled": true, "color": "#ffff00", "opacity": 1, "size": 28, "yOffset": 25, "xOffset": -1}},
        {"transform": [{"filter": "datum.art==='Monduntergang'"}], "mark": {"type": "point", "shape": "circle", "filled": true, "color": "#ffffff", "opacity": 1, "size": 20, "yOffset": 23, "xOffset": -2}},
        {"transform": [{"filter": "datum.art==='Monduntergang'"}], "mark": {"type": "point", "shape": "triangle-up", "filled": true, "color": "#ffff00", "opacity": 1, "size": 28, "yOffset": 29, "xOffset": 2}},
        {"transform": [{"filter": "datum.art==='Tageslänge'"}], "mark": {"type": "text", "align": "left", "baseline": "middle", "dx": -66.5, "dy": 26}, "encoding": {"text": {"field": "zeit"}}},
        {"transform": [{"filter": "datum.art==='Tageslänge'"}], "mark": {"type": "point", "shape": "M-1,0.4A1,1 0 0 1 1,0.4Z", "filled": true, "color": "#ffff00", "opacity": 1, "size": 70, "xOffset": -32.4, "yOffset": 26}},
        {"transform": [{"filter": "datum.art==='Quelle'"}], "mark": {"type": "text", "align": "right", "baseline": "middle", "color": "#ff0000", "dx": 31, "dy": -36, "fontSize": 11}, "encoding": {"y": {"datum": 28, "type": "quantitative"}, "text": {"field": "zeit"}}},
        {"transform": [{"filter": "datum.art==='Titel'"}], "mark": {"type": "text", "align": "center", "baseline": "middle", "color": "#202020", "dx": -15, "dy": -33, "fontSize": 16}, "encoding": {"y": {"datum": 28, "type": "quantitative"}, "text": {"field": "zeit"}}}
      ]
    },
    {
      "layer": [
        {
          "data": {"name": "spalten"},
          "mark": {"type": "rule", "color": "#a0a0a0", "strokeWidth": 1.5, "yOffset": -13, "y2Offset": 9},
          "encoding": {
            "x": {"field": "spalte", "type": "nominal", "bandPosition": 0, "sort": null, "scale": {"type": "band", "domain": ["Sensor","TLuft 2m","TBoden+5cm","gefühlt Temp","Taupunkt","Luftdruck","Luftfeuchte","PMV 0:9"], "range": [-106.7, 834.9], "paddingInner": 0, "paddingOuter": 0}, "axis": null},
            "y": {"datum": "Sensor", "type": "nominal", "scale": {"type": "point", "domain": ["Sensor","MinWert","MaxWert","Durchschnitt"], "range": [674, 722], "padding": 0}, "axis": null},
            "y2": {"datum": "Durchschnitt"}
          }
        },
        {
          "data": {"name": "zeilen"},
          "mark": {"type": "text", "align": "left", "baseline": "middle", "fontWeight": "bold", "fontSize": 11.5, "dx": 38.5},
          "encoding": {
            "x": {"datum": "Sensor", "type": "nominal", "bandPosition": 0},
            "y": {"field": "zeile", "type": "nominal"},
            "text": {"field": "zeile"}
          }
        },
        {
          "data": {"name": "spalten"},
          "transform": [{"filter": "datum.spalte!=='PMV 0:9'"}],
          "mark": {"type": "text", "align": "left", "baseline": "middle", "fontWeight": "bold", "fontSize": 11.5, "dx": 7},
          "encoding": {
            "x": {"field": "spalte", "type": "nominal", "bandPosition": 0},
            "y": {"datum": "Sensor", "type": "nominal"},
            "text": {"field": "spalte"}
          }
        },
        {
          "data": {"name": "spalten"},
          "transform": [{"filter": "datum.spalte==='PMV 0:9'"}],
          "mark": {"type": "text", "align": "left", "baseline": "middle", "fontWeight": "bold", "fontSize": 11.5, "dx": 125},
          "encoding": {
            "x": {"field": "spalte", "type": "nominal", "bandPosition": 0},
            "y": {"datum": "Sensor", "type": "nominal"},
            "text": {"field": "spalte"}
          }
        },
        {
          "data": {"name": "spalten"},
          "mark": {"type": "text", "align": "right", "baseline": "middle", "fontWeight": "bold", "fontSize": 11.5, "dx": -7},
          "encoding": {
            "x": {"field": "spalte", "type": "nominal", "bandPosition": 1},
            "y": {"datum": "Sensor", "type": "nominal"},
            "text": {"field": "einheit"}
          }
        },
        {
          "data": {"name": "tabelle"},
          "transform": [{"filter": "datum.zeit"}],
          "mark": {"type": "text", "align": "left", "baseline": "middle", "dx": 13},
          "encoding": {
            "x": {"field": "spalte", "type": "nominal", "bandPosition": 0},
            "y": {"field": "zeile", "type": "nominal"},
            "text": {"field": "zeit"}
          }
        },
        {
          "data": {"name": "tabelle"},
          "transform": [{"filter": "datum.wert"}],
          "mark": {"type": "text", "align": "right", "baseline": "middle", "dx": -7},
          "encoding": {
            "x": {"field": "spalte", "type": "nominal", "bandPosition": 1},
            "y": {"field": "zeile", "type": "nominal"},
            "text": {"field": "wert"}
          }
        },
        {
          "data": {"name": "tabelle"},
          "transform": [{"filter": "datum.notiz"}],
          "mark": {"type": "text", "align": "left", "baseline": "middle", "dx": 7},
          "encoding": {
            "x": {"field": "spalte", "type": "nominal", "bandPosition": 0},
            "y": {"field": "zeile", "type": "nominal"},
            "text": {"field": "notiz"}
          }
        },
        {
          "data": {"name": "tabelle"},
          "transform": [{"filter": "datum.info"}],
          "mark": {"type": "text", "align": "left", "baseline": "middle", "dx": 125},
          "encoding": {
            "x": {"field": "spalte", "type": "nominal", "bandPosition": 0},
            "y": {"field": "zeile", "type": "nominal"},
            "text": {"field": "info"}
          }
        }
      ]
    }
  ]
}
